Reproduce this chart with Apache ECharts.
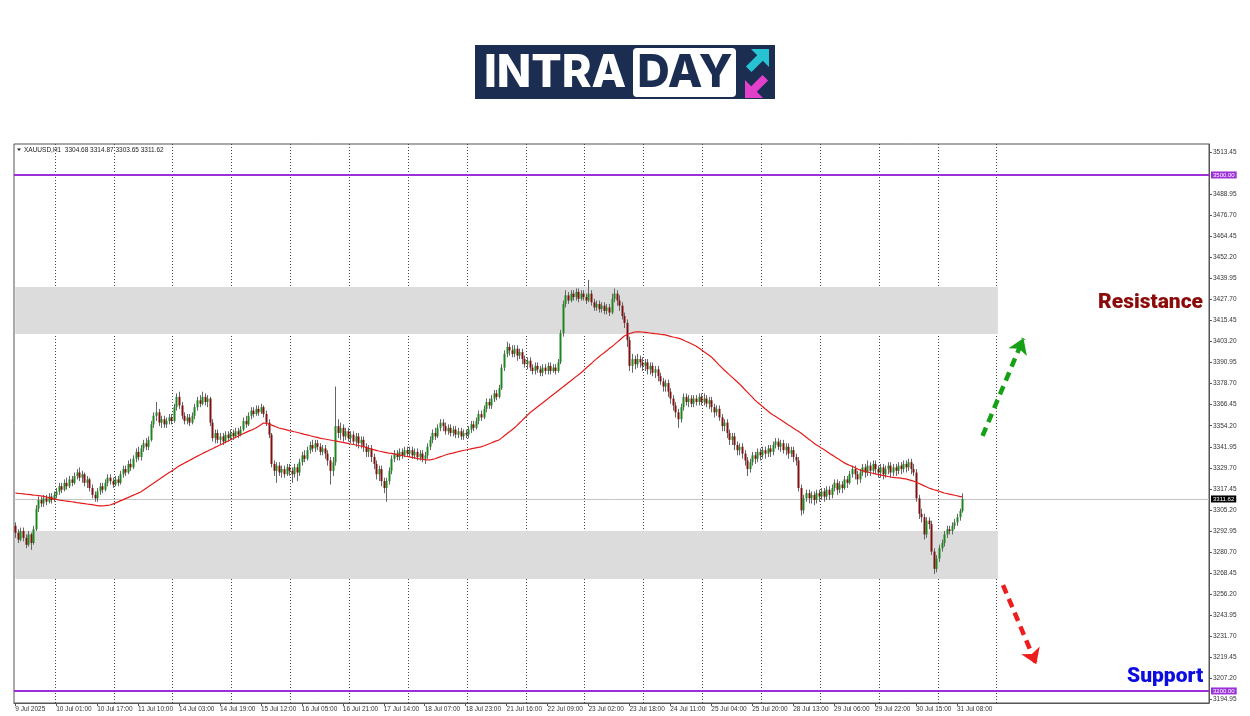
<!DOCTYPE html>
<html><head><meta charset="utf-8">
<script src="https://cdn.jsdelivr.net/npm/echarts@6.0.0/dist/echarts.min.js"></script>
<style>html,body{margin:0;padding:0;background:#fff}#c{width:1250px;height:716px}</style>
</head><body><div id="c"></div>
<script>
// ---- data: [open, close, low, high] per H1 bar, grouped by trading day ----
const day09 = [[3296,3292,3289,3298],[3292,3288,3286,3294],[3288,3293,3287,3295],[3293,3289,3287,3295],[3289,3285,3283,3291],[3285,3291,3284,3293],[3291,3286,3282,3292],[3286,3294,3285,3296],[3294,3306,3293,3308],[3306,3311,3304,3313],[3311,3309,3307,3313],[3309,3312,3307,3314],[3312,3310,3308,3314],[3310,3313,3309,3315],[3313,3311,3309,3315],[3311,3314,3310,3316]];
const day10 = [[3314,3316,3312,3318],[3316,3319,3314,3321],[3319,3317,3315,3321],[3317,3321,3316,3323],[3321,3319,3317,3324],[3319,3323,3318,3325],[3323,3321,3319,3325],[3321,3325,3320,3327],[3325,3327,3323,3329],[3327,3324,3322,3330],[3324,3326,3321,3328],[3326,3321,3319,3327],[3321,3323,3318,3325],[3323,3318,3316,3324],[3318,3314,3312,3320],[3314,3312,3310,3316],[3312,3316,3310,3318],[3316,3319,3314,3321],[3319,3317,3315,3321],[3317,3321,3316,3323],[3321,3324,3319,3326],[3324,3322,3320,3326],[3322,3320,3318,3324]];
const day11 = [[3320,3323,3319,3325],[3323,3321,3319,3325],[3321,3326,3320,3328],[3326,3329,3324,3331],[3329,3327,3325,3331],[3327,3332,3326,3334],[3332,3330,3328,3335],[3330,3335,3329,3337],[3335,3339,3333,3341],[3339,3336,3334,3342],[3336,3341,3334,3343],[3341,3344,3339,3346],[3344,3342,3340,3347],[3342,3346,3340,3348],[3346,3355,3345,3357],[3355,3360,3353,3362],[3360,3362,3357,3368],[3362,3356,3354,3364],[3356,3358,3353,3360],[3358,3355,3353,3360],[3355,3357,3353,3359],[3357,3359,3355,3361],[3359,3357,3355,3361]];
const day14 = [[3357,3365,3356,3367],[3365,3371,3363,3373],[3371,3366,3364,3374],[3366,3360,3358,3368],[3360,3357,3355,3362],[3357,3359,3355,3361],[3359,3356,3354,3361],[3356,3360,3355,3362],[3360,3365,3358,3367],[3365,3369,3363,3371],[3369,3367,3365,3372],[3367,3371,3366,3374],[3371,3368,3366,3373],[3368,3370,3365,3372],[3370,3356,3354,3371],[3356,3347,3345,3358],[3347,3350,3344,3352],[3350,3346,3344,3352],[3346,3348,3343,3350],[3348,3345,3343,3350],[3345,3349,3344,3351],[3349,3347,3345,3351],[3347,3350,3346,3352]];
const day15 = [[3350,3348,3346,3352],[3348,3351,3347,3353],[3351,3349,3347,3353],[3349,3352,3348,3354],[3352,3357,3351,3359],[3357,3355,3353,3360],[3355,3360,3354,3362],[3360,3363,3358,3365],[3363,3361,3359,3365],[3361,3364,3360,3366],[3364,3362,3360,3366],[3362,3365,3361,3367],[3365,3361,3359,3366],[3361,3356,3354,3363],[3356,3349,3347,3358],[3349,3332,3330,3350],[3332,3328,3325,3334],[3328,3331,3321,3333],[3331,3327,3325,3333],[3327,3329,3324,3331],[3329,3326,3324,3331],[3326,3330,3325,3332],[3330,3328,3325,3332]];
const day16 = [[3328,3326,3321,3330],[3326,3330,3324,3332],[3330,3327,3322,3332],[3327,3333,3325,3335],[3333,3337,3331,3339],[3337,3335,3333,3340],[3335,3340,3334,3342],[3340,3343,3338,3345],[3343,3341,3339,3346],[3341,3344,3339,3346],[3344,3342,3340,3346],[3342,3339,3337,3344],[3339,3341,3337,3343],[3341,3338,3335,3343],[3338,3334,3331,3340],[3334,3328,3320,3336],[3328,3333,3325,3336],[3333,3354,3331,3377],[3354,3350,3347,3358],[3350,3353,3346,3356],[3353,3348,3345,3355],[3348,3351,3346,3353],[3351,3347,3345,3353]];
const day17 = [[3347,3349,3344,3351],[3349,3345,3343,3351],[3345,3348,3342,3350],[3348,3344,3341,3350],[3344,3346,3341,3348],[3346,3342,3339,3348],[3342,3339,3336,3344],[3339,3341,3336,3343],[3341,3336,3333,3343],[3336,3332,3329,3338],[3332,3326,3323,3334],[3326,3329,3322,3331],[3329,3322,3319,3331],[3322,3318,3315,3324],[3318,3322,3310,3324],[3322,3328,3320,3330],[3328,3335,3326,3337],[3335,3338,3333,3340],[3338,3336,3334,3340],[3336,3339,3334,3341],[3339,3337,3335,3341],[3337,3340,3336,3342],[3340,3338,3336,3342]];
const day18 = [[3338,3340,3336,3342],[3340,3337,3335,3342],[3337,3339,3335,3341],[3339,3336,3334,3341],[3336,3338,3334,3340],[3338,3335,3333,3340],[3335,3337,3332,3339],[3337,3342,3335,3344],[3342,3346,3340,3348],[3346,3350,3344,3352],[3350,3348,3346,3353],[3348,3353,3347,3355],[3353,3356,3351,3358],[3356,3354,3351,3358],[3354,3351,3349,3356],[3351,3353,3349,3355],[3353,3350,3348,3355],[3350,3352,3348,3354],[3352,3349,3347,3354],[3349,3351,3347,3353],[3351,3348,3346,3353],[3348,3350,3346,3352],[3350,3349,3347,3352]];
const day21 = [[3349,3352,3347,3354],[3352,3355,3350,3357],[3355,3353,3351,3357],[3353,3357,3352,3359],[3357,3361,3355,3363],[3361,3359,3357,3363],[3359,3364,3358,3366],[3364,3368,3362,3370],[3368,3366,3364,3370],[3366,3370,3364,3372],[3370,3373,3368,3375],[3373,3371,3369,3375],[3371,3376,3370,3378],[3376,3388,3375,3390],[3388,3396,3386,3398],[3396,3400,3394,3403],[3400,3398,3395,3402],[3398,3396,3394,3401],[3396,3399,3394,3401],[3399,3395,3392,3401],[3395,3397,3393,3399],[3397,3393,3390,3399],[3393,3390,3388,3395]];
const day22 = [[3390,3392,3387,3394],[3392,3388,3386,3394],[3388,3386,3384,3390],[3386,3389,3384,3391],[3389,3387,3385,3391],[3387,3385,3383,3389],[3385,3388,3383,3390],[3388,3386,3384,3390],[3386,3389,3384,3391],[3389,3386,3384,3391],[3386,3388,3385,3390],[3388,3386,3384,3390],[3386,3391,3385,3393],[3391,3408,3390,3410],[3408,3425,3406,3427],[3425,3430,3423,3433],[3430,3427,3425,3432],[3427,3431,3426,3433],[3431,3429,3427,3433],[3429,3432,3427,3434],[3432,3428,3426,3434],[3428,3431,3427,3433],[3431,3429,3427,3433]];
const day23 = [[3429,3427,3425,3431],[3427,3431,3426,3439],[3431,3426,3424,3433],[3426,3423,3421,3428],[3423,3425,3421,3427],[3425,3422,3420,3427],[3422,3424,3420,3426],[3424,3421,3419,3426],[3421,3423,3419,3425],[3423,3420,3418,3425],[3420,3428,3419,3431],[3428,3431,3426,3434],[3431,3427,3424,3433],[3427,3424,3421,3430],[3424,3418,3416,3426],[3418,3414,3411,3420],[3414,3404,3400,3416],[3404,3389,3386,3406],[3389,3393,3385,3396],[3393,3390,3387,3395],[3390,3393,3388,3396],[3393,3391,3388,3395],[3391,3389,3386,3394]];
const day24 = [[3389,3391,3386,3393],[3391,3387,3384,3393],[3387,3389,3384,3391],[3389,3385,3383,3391],[3385,3387,3382,3389],[3387,3383,3380,3389],[3383,3380,3378,3385],[3380,3377,3374,3382],[3377,3379,3374,3381],[3379,3374,3371,3381],[3374,3370,3367,3376],[3370,3366,3363,3372],[3366,3362,3359,3368],[3362,3358,3353,3364],[3358,3365,3356,3367],[3365,3371,3363,3373],[3371,3368,3366,3373],[3368,3370,3365,3372],[3370,3367,3365,3372],[3367,3370,3365,3372],[3370,3368,3366,3372],[3368,3371,3366,3373],[3371,3368,3366,3373]];
const day25 = [[3368,3370,3366,3373],[3370,3367,3365,3372],[3367,3369,3364,3371],[3369,3365,3362,3371],[3365,3362,3359,3367],[3362,3364,3360,3366],[3364,3359,3357,3366],[3359,3354,3351,3361],[3354,3356,3351,3358],[3356,3350,3347,3358],[3350,3346,3343,3352],[3346,3348,3343,3350],[3348,3343,3340,3350],[3343,3340,3337,3345],[3340,3342,3337,3344],[3342,3338,3335,3344],[3338,3334,3331,3340],[3334,3329,3325,3336],[3329,3333,3327,3335],[3333,3337,3331,3339],[3337,3335,3332,3339],[3335,3339,3333,3341],[3339,3337,3334,3341]];
const day28 = [[3337,3340,3335,3342],[3340,3338,3335,3342],[3338,3341,3336,3343],[3341,3339,3336,3343],[3339,3343,3337,3345],[3343,3345,3341,3347],[3345,3342,3340,3347],[3342,3344,3339,3346],[3344,3340,3338,3346],[3340,3342,3337,3344],[3342,3338,3335,3344],[3338,3340,3336,3342],[3340,3336,3333,3342],[3336,3334,3331,3338],[3334,3318,3316,3336],[3318,3305,3302,3320],[3305,3312,3303,3314],[3312,3315,3310,3317],[3315,3312,3309,3317],[3312,3314,3309,3316],[3314,3311,3308,3316],[3311,3315,3309,3317],[3315,3313,3310,3317]];
const day29 = [[3313,3316,3311,3318],[3316,3313,3310,3318],[3313,3317,3311,3319],[3317,3314,3311,3319],[3314,3318,3312,3320],[3318,3321,3316,3323],[3321,3317,3314,3323],[3317,3320,3315,3322],[3320,3318,3315,3322],[3318,3323,3317,3325],[3323,3321,3318,3325],[3321,3326,3320,3328],[3326,3329,3324,3331],[3329,3326,3323,3331],[3326,3323,3320,3328],[3323,3327,3321,3329],[3327,3330,3325,3332],[3330,3327,3324,3332],[3327,3331,3325,3334],[3331,3328,3325,3333],[3328,3332,3326,3334],[3332,3329,3326,3334],[3329,3327,3324,3331]];
const day30 = [[3327,3330,3324,3332],[3330,3326,3323,3332],[3326,3329,3324,3331],[3329,3331,3326,3333],[3331,3327,3324,3333],[3327,3330,3325,3332],[3330,3328,3325,3332],[3328,3331,3326,3333],[3331,3329,3326,3333],[3329,3332,3327,3334],[3332,3330,3327,3334],[3330,3333,3328,3335],[3333,3329,3326,3335],[3329,3327,3325,3332],[3327,3312,3310,3329],[3312,3303,3300,3314],[3303,3301,3298,3306],[3301,3291,3288,3303],[3291,3299,3289,3301],[3299,3297,3294,3301],[3297,3281,3279,3299],[3281,3271,3268,3283],[3271,3277,3269,3279]];
const day31 = [[3277,3283,3275,3285],[3283,3286,3281,3288],[3286,3291,3284,3293],[3291,3294,3289,3296],[3294,3293,3291,3296],[3293,3296,3291,3298],[3296,3298,3294,3300],[3298,3301,3296,3303],[3301,3304.68,3299,3306],[3304.68,3311.62,3303.65,3314.87]];

// moving average (red line), one value per bar
const maValues = [
3315.1,3314.9,3314.8,3314.6,3314.4,3314.3,3314.1,3313.9,3313.8,3313.6,3313.4,
3313.1,3312.8,3312.4,3312.1,3311.7,3311.4,3311.0,
3310.8,3310.6,3310.4,3310.2,3310.0,3309.8,3309.5,3309.3,
3309.1,3308.9,3308.7,3308.5,3308.3,3308.0,3307.8,3307.6,
3307.6,3307.7,3307.9,3308.1,
3308.6,3309.2,3309.8,3310.5,
3311.1,3311.8,3312.4,3313.1,3313.7,3314.4,3315.0,3315.7,
3316.7,3317.7,3318.7,3319.8,3320.8,3321.8,3322.8,3323.8,
3324.8,3325.8,3326.8,3327.8,3328.8,3329.8,3330.8,
3331.6,3332.4,3333.2,3334.0,3334.8,3335.6,3336.4,3337.2,
3337.9,3338.7,3339.4,3340.1,3340.8,3341.6,3342.3,3343.0,
3343.7,3344.5,3345.2,3345.9,3346.6,3347.4,3348.1,3348.8,
3349.5,3350.2,3350.9,3351.5,3352.2,3352.9,
3353.8,3354.8,3355.8,
3355.6,3355.2,3354.7,3354.1,3353.5,3352.9,
3352.5,3352.2,3351.8,3351.4,3351.1,3350.7,3350.4,3350.0,
3349.6,3349.2,3348.9,3348.5,3348.1,3347.7,3347.4,3347.0,
3346.7,3346.5,3346.2,3345.9,3345.6,3345.4,3345.1,3344.8,
3344.5,3344.2,3343.9,3343.6,3343.3,3343.0,3342.7,3342.4,
3342.0,3341.6,3341.2,3340.7,3340.3,3339.9,3339.5,
3339.2,3338.9,3338.6,3338.3,3338.1,3337.8,3337.5,3337.2,
3336.9,3336.6,3336.3,3336.1,3335.8,3335.5,3335.2,3334.9,
3334.7,3334.5,3334.4,3334.3,
3334.6,3335.0,3335.5,3336.1,3336.6,3337.2,
3337.6,3338.0,3338.3,3338.7,3339.1,3339.4,3339.8,3340.1,
3340.4,3340.7,3341.0,3341.3,3341.6,3341.9,
3342.4,3343.0,3343.6,3344.2,3344.8,3345.4,3345.9,
3347.0,3348.2,3349.4,3350.6,3351.7,3352.9,
3354.3,3355.8,3357.2,3358.7,3360.1,3361.6,
3362.8,3363.9,3365.1,3366.3,3367.4,3368.6,3369.7,3370.9,
3372.1,3373.2,3374.4,3375.6,3376.7,3377.9,
3379.1,3380.2,3381.4,3382.6,3383.7,3384.9,
3386.2,3387.6,3388.9,3390.2,3391.6,3392.9,3394.2,
3395.4,3396.5,3397.7,3398.9,3400.0,3401.2,
3402.5,3403.8,3405.1,3406.4,
3407.1,3407.7,3408.2,3408.7,
3408.8,3408.8,3408.7,3408.5,3408.3,3408.1,
3407.9,3407.7,3407.6,3407.4,3407.2,3407.0,
3406.6,3406.2,3405.8,3405.5,3405.1,3404.7,
3404.0,3403.3,3402.7,3402.0,3401.3,3400.6,
3399.5,3398.5,3397.4,3396.3,3395.3,3394.2,
3392.7,3391.2,3389.6,3388.1,3386.6,
3385.3,3383.9,3382.6,3381.2,3379.9,3378.5,
3377.0,3375.4,3373.9,3372.3,3370.8,3369.2,
3367.9,3366.7,3365.4,3364.1,3362.9,3361.6,
3360.6,3359.7,3358.7,3357.8,3356.8,3355.8,
3354.8,3353.9,3352.9,3351.9,3351.0,3350.0,
3348.8,3347.7,3346.5,3345.4,3344.2,
3343.2,3342.3,3341.3,3340.4,3339.4,3338.4,
3337.4,3336.5,3335.5,3334.6,3333.6,3332.6,
3331.9,3331.2,3330.6,3329.9,3329.2,3328.5,
3328.1,3327.7,3327.3,3327.0,3326.6,3326.2,
3325.9,3325.6,3325.3,3325.0,3324.7,3324.4,
3324.2,3324.0,3323.9,3323.7,3323.5,3323.3,
3322.9,3322.4,3322.0,3321.5,
3320.8,3320.1,3319.4,3318.7,3318.0,
3317.5,3317.0,3316.6,3316.1,3315.6,3315.1,
3314.8,3314.4,3314.1,3313.8,3313.5,3313.1,3312.8];

const xTickLabels = ['9 Jul 2025','10 Jul 01:00','10 Jul 17:00','11 Jul 10:00','14 Jul 03:00','14 Jul 19:00','15 Jul 12:00','16 Jul 05:00','16 Jul 21:00','17 Jul 14:00','18 Jul 07:00','18 Jul 23:00','21 Jul 16:00','22 Jul 09:00','23 Jul 02:00','23 Jul 18:00','24 Jul 11:00','25 Jul 04:00','25 Jul 20:00','28 Jul 13:00','29 Jul 06:00','29 Jul 22:00','30 Jul 15:00','31 Jul 08:00'];
const yTickValues = [3194.95,3207.20,3219.45,3231.70,3243.95,3256.20,3268.45,3280.70,3292.95,3305.20,3317.45,3329.70,3341.95,3354.20,3366.45,3378.70,3390.95,3403.20,3415.45,3427.70,3439.95,3452.20,3464.45,3476.70,3488.95,3513.45];
const tradingDays = ['9 Jul','10 Jul','11 Jul','14 Jul','15 Jul','16 Jul','17 Jul','18 Jul','21 Jul','22 Jul','23 Jul','24 Jul','25 Jul','28 Jul','29 Jul','30 Jul','31 Jul','1 Aug','4 Aug','5 Aug','6 Aug','7 Aug','8 Aug'];
const resistanceZone = [3434.9, 3407.6];
const supportZone = [3293.0, 3265.1];
const zoneEndBar = 384;
const lastGridBar = 384;
const levelLines = [3500, 3200];
const lastPrice = 3311.62;
const headerText = 'XAUUSD,H1  3304.68 3314.87 3303.65 3311.62';
const upArrow = [[377.7, 3348.3], [393.8, 3405.0]];
const downArrow = [[386.3, 3261.6], [398.6, 3215.5]];

// ---- build ----
const candles = [].concat(day09, day10, day11, day14, day15, day16, day17, day18, day21, day22, day23, day24, day25, day28, day29, day30, day31);
const totalSlots = 467;
const categories = [];
for (let d = 0; categories.length < totalSlots && d < tradingDays.length; d++) {
  for (let h = (d === 0 ? 8 : 1); h <= 23 && categories.length < totalSlots; h++) {
    categories.push(tradingDays[d] + ' ' + String(h).padStart(2, '0') + ':00');
  }
}
const labelFor = {};
xTickLabels.forEach((t, k) => { labelFor[categories[k * 16]] = t; });
const candleData = candles.map((r, i) => [i, r[0], r[1], r[2], r[3]]);

const chart = echarts.init(document.getElementById('c'), null, {renderer: 'canvas'});
const purple = '#9b30d9';
const axisFont = 'Liberation Sans';

chart.setOption({
  animation: false,
  backgroundColor: '#ffffff',
  grid: {left: 14, right: 41, top: 144, bottom: 13, show: true, borderColor: '#555', borderWidth: 1, backgroundColor: 'transparent'},
  xAxis: {
    type: 'category', data: categories, boundaryGap: true,
    axisLine: {show: true, lineStyle: {color: '#555', width: 1}},
    axisTick: {show: true, alignWithLabel: true, length: 3, lineStyle: {color: '#555'},
      interval: (i) => i % 16 === 0 && i / 16 < xTickLabels.length},
    axisLabel: {show: true, interval: (i) => i % 16 === 0 && i / 16 < xTickLabels.length,
      formatter: (v) => labelFor[v] || '', align: 'left', fontSize: 6.5, color: '#333', margin: 3, fontFamily: axisFont},
    splitLine: {show: true, interval: (i, v) => i <= lastGridBar && /\s01:00$/.test(v),
      lineStyle: {color: '#444', width: 1, type: [1, 2]}}
  },
  yAxis: {
    type: 'value', position: 'right', min: 3193.0, max: 3518.0, scale: true,
    axisLine: {show: true, lineStyle: {color: '#555'}},
    axisTick: {show: true, length: 3, customValues: yTickValues, lineStyle: {color: '#555'}},
    axisLabel: {show: true, customValues: yTickValues, formatter: (v) => v.toFixed(2), fontSize: 6.5, color: '#333', margin: 4, fontFamily: axisFont},
    splitLine: {show: false}
  },
  series: [
    {
      type: 'custom', name: 'XAUUSD', z: 3,
      data: candleData,
      encode: {x: 0, y: [1, 2, 3, 4]},
      renderItem: function (params, api) {
        const i = api.value(0), o = api.value(1), c = api.value(2), l = api.value(3), h = api.value(4);
        const pO = api.coord([i, o]), pC = api.coord([i, c]), pL = api.coord([i, l]), pH = api.coord([i, h]);
        const x = Math.round(pO[0]);
        const top = Math.min(pO[1], pC[1]), bot = Math.max(pO[1], pC[1]);
        const bull = c >= o;
        return {type: 'group', children: [
          {type: 'line', shape: {x1: x + 0.5, y1: pH[1], x2: x + 0.5, y2: pL[1]}, style: {stroke: '#666', lineWidth: 1}},
          {type: 'rect', shape: {x: x - 0.5, y: top, width: 2, height: Math.max(bot - top, 1)}, style: {fill: bull ? '#1f861f' : '#7e1010'}}
        ]};
      }
    },
    {
      type: 'line', name: 'MA', z: 4, data: maValues, showSymbol: false, symbol: 'none',
      lineStyle: {color: '#e41b1b', width: 1.2}, silent: true,
      markArea: {silent: true, itemStyle: {color: '#dcdcdc'}, data: [
        [{xAxis: 0, yAxis: resistanceZone[0]}, {xAxis: zoneEndBar, yAxis: resistanceZone[1]}],
        [{xAxis: 0, yAxis: supportZone[0]}, {xAxis: zoneEndBar, yAxis: supportZone[1]}]
      ]},
      markLine: {silent: true, z: 2, symbol: ['none', 'none'], animation: false, data: [
        {yAxis: levelLines[0], lineStyle: {color: purple, width: 2, type: 'solid'},
          label: {show: true, position: 'end', formatter: levelLines[0].toFixed(2), backgroundColor: purple, color: '#fff', fontSize: 6, padding: [1, 2, 0, 2], distance: 2, fontFamily: axisFont}},
        {yAxis: levelLines[1], lineStyle: {color: purple, width: 2, type: 'solid'},
          label: {show: true, position: 'end', formatter: levelLines[1].toFixed(2), backgroundColor: purple, color: '#fff', fontSize: 6, padding: [1, 2, 0, 2], distance: 2, fontFamily: axisFont}},
        {yAxis: lastPrice, lineStyle: {color: '#c4c4c4', width: 1, type: 'solid'},
          label: {show: true, position: 'end', formatter: lastPrice.toFixed(2), backgroundColor: '#000', color: '#fff', fontSize: 6, padding: [1, 2, 0, 2], distance: 2, fontFamily: axisFont}},
        [
          {coord: upArrow[0], symbol: 'none', lineStyle: {color: '#16a016', width: 4.5, type: [9, 6]}, label: {show: false}},
          {coord: upArrow[1], symbol: 'arrow', symbolSize: [15, 15], lineStyle: {color: '#16a016', width: 4.5, type: [9, 6]}, label: {show: false}}
        ],
        [
          {coord: downArrow[0], symbol: 'none', lineStyle: {color: '#ee1c1c', width: 4.5, type: [9, 6]}, label: {show: false}},
          {coord: downArrow[1], symbol: 'arrow', symbolSize: [15, 15], lineStyle: {color: '#ee1c1c', width: 4.5, type: [9, 6]}, label: {show: false}}
        ]
      ]}
    }
  ],
  graphic: [
    // logo
    {type: 'rect', shape: {x: 475, y: 45, width: 300, height: 54}, style: {fill: '#1c2d52'}},
    {type: 'text', x: 484, y: 73, style: {text: 'INTRA', font: '800 45px Inter', fill: '#ffffff', textAlign: 'left', textVerticalAlign: 'middle', align: 'left', verticalAlign: 'middle'}},
    {type: 'rect', shape: {x: 633, y: 48, width: 103, height: 49, r: 4}, style: {fill: '#ffffff'}},
    {type: 'text', x: 685, y: 73, style: {text: 'DAY', font: '800 45px Inter', fill: '#1c2d52', textAlign: 'center', textVerticalAlign: 'middle', align: 'center', verticalAlign: 'middle'}},
    {type: 'polygon', shape: {points: [[769,49],[769,67],[762.8,60.8],[751.5,72.1],[745.9,66.5],[757.2,55.2],[751,49]]}, style: {fill: '#27c3d3'}},
    {type: 'polygon', shape: {points: [[745,98],[745,80],[751.2,86.2],[762.5,74.9],[768.1,80.5],[756.8,91.8],[763,98]]}, style: {fill: '#e23fcb'}},
    // header
    {type: 'polygon', shape: {points: [[17,148.5],[21,148.5],[19,151]]}, style: {fill: '#222'}},
    {type: 'text', x: 24, y: 150, style: {text: headerText, font: '6.5px Liberation Sans', fill: '#222', textVerticalAlign: 'middle', verticalAlign: 'middle'}},
    // annotations
    {type: 'text', x: 1098, y: 303, style: {text: 'Resistance', font: '900 21px Roboto', fill: '#8b0a0a', textVerticalAlign: 'middle', verticalAlign: 'middle'}},
    {type: 'text', x: 1127, y: 677, style: {text: 'Support', font: '900 21px Roboto', fill: '#0d0de0', textVerticalAlign: 'middle', verticalAlign: 'middle'}}
  ]
});
</script>
</body></html>
